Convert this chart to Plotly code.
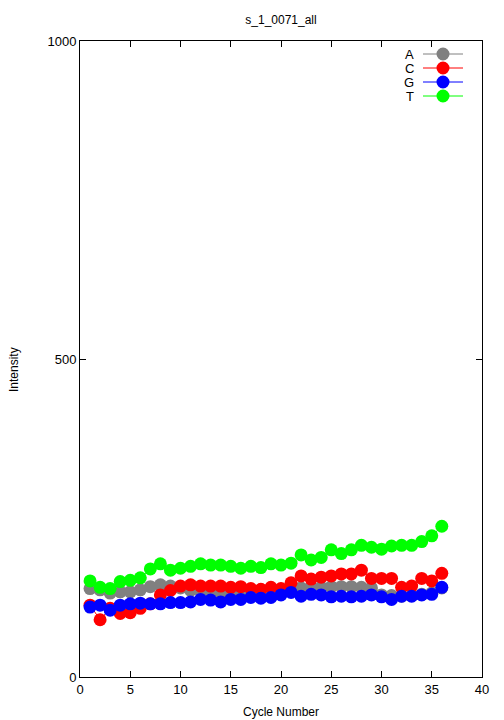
import plotly.graph_objects as go

# cycle numbers and mean intensity per base
cycles = list(range(1, 37))
A_vals = [139, 137, 132, 134, 134, 137, 142, 145, 143, 140, 136, 135, 134, 133, 134, 134, 136, 137, 138, 138,
          139, 140, 141, 141, 142, 142, 142, 141, 140, 129, 128, 127, 128, 130, 132, 140]
C_vals = [113, 90, 108, 100, 101, 108, 115, 129, 136, 143, 145, 143, 143, 143, 141, 142, 139, 138, 141, 139,
          148, 159, 154, 157, 159, 162, 162, 168, 155, 155, 155, 141, 143, 155, 151, 163]
G_vals = [110, 113, 105, 113, 115, 116, 115, 115, 117, 117, 118, 122, 121, 118, 122, 122, 125, 124, 125, 129,
          133, 127, 130, 129, 126, 127, 126, 127, 129, 126, 122, 127, 127, 129, 130, 141]
T_vals = [151, 141, 139, 150, 152, 156, 170, 178, 168, 171, 174, 178, 176, 176, 174, 171, 174, 172, 178, 176,
          179, 192, 184, 188, 200, 194, 200, 207, 204, 201, 206, 207, 207, 213, 222, 237]

series = [("A", A_vals, "#808080"), ("C", C_vals, "#ff0000"),
          ("G", G_vals, "#0000ff"), ("T", T_vals, "#00ff00")]

x_ticks = [0, 5, 10, 15, 20, 25, 30, 35, 40]
y_ticks = [0, 500, 1000]

FONT = "Liberation Sans, Arial, Helvetica, sans-serif"

# the page body adds an 8px margin, so everything is laid out 8px up/left
OFF = 8
W, H = 504 - OFF, 720 - OFF
# plot frame in screen pixels (gnuplot style)
L, R, T, B = 80, 482, 41, 677

fig = go.Figure()
for name, vals, col in series:
    fig.add_trace(go.Scatter(
        x=cycles, y=vals, name=name, mode="lines+markers",
        line=dict(color=col, width=1),
        marker=dict(color=col, size=13, line=dict(width=0)),
        showlegend=False,
    ))

# screen pixel -> paper coordinate
def px_x(p):
    return (p - L) / (R - L)

def px_y(p):
    return (B - p) / (B - T)

# hand-made key: label on the left, sample on the right like gnuplot
shapes = []
annotations = []
key_rows = [54, 68, 82, 96]
for (name, vals, col), ry in zip(series, key_rows):
    yy = px_y(ry)
    shapes.append(dict(type="line", xref="paper", yref="paper",
                       x0=px_x(423), x1=px_x(463), y0=yy, y1=yy,
                       line=dict(color=col, width=1)))
    shapes.append(dict(type="circle", xref="paper", yref="paper",
                       xsizemode="pixel", ysizemode="pixel",
                       xanchor=px_x(443), yanchor=yy,
                       x0=-6.5, x1=6.5, y0=-6.5, y1=6.5,
                       fillcolor=col, line=dict(width=0)))
    annotations.append(dict(text=name, xref="paper", yref="paper",
                            x=px_x(416), y=yy, xanchor="right", yanchor="middle",
                            showarrow=False, font=dict(size=13, color="black", family=FONT)))

# axis titles
annotations.append(dict(text="Intensity", xref="paper", yref="paper",
                        x=px_x(14), y=px_y(370), textangle=-90,
                        xanchor="center", yanchor="middle", showarrow=False,
                        font=dict(size=12, color="black", family=FONT)))
annotations.append(dict(text="Cycle Number", xref="paper", yref="paper",
                        x=px_x(281), y=px_y(712), xanchor="center", yanchor="middle",
                        showarrow=False, font=dict(size=12, color="black", family=FONT)))

fig.update_layout(
    width=W, height=H,
    margin=dict(l=L - OFF, r=504 - R, t=T - OFF, b=720 - B),
    paper_bgcolor="white", plot_bgcolor="white",
    font=dict(family=FONT, size=12, color="black"),
    title=dict(text="s_1_0071_all", x=0.5, xref="paper", xanchor="center",
               y=1 - (20 - OFF) / H, yref="container", yanchor="middle",
               font=dict(size=12, color="black", family=FONT)),
    shapes=shapes, annotations=annotations,
    showlegend=False,
)
fig.update_xaxes(range=[0, 40], tickvals=x_ticks, ticks="inside", ticklen=6,
                 tickcolor="black", showline=True, linecolor="black", linewidth=1,
                 mirror="allticks", showgrid=False, zeroline=False,
                 tickfont=dict(size=13, color="black"))
fig.update_yaxes(range=[0, 1000], tickvals=y_ticks, ticks="inside", ticklen=6,
                 tickcolor="black", showline=True, linecolor="black", linewidth=1,
                 mirror="allticks", showgrid=False, zeroline=False,
                 tickfont=dict(size=13, color="black"))

fig.write_html("out.html")
